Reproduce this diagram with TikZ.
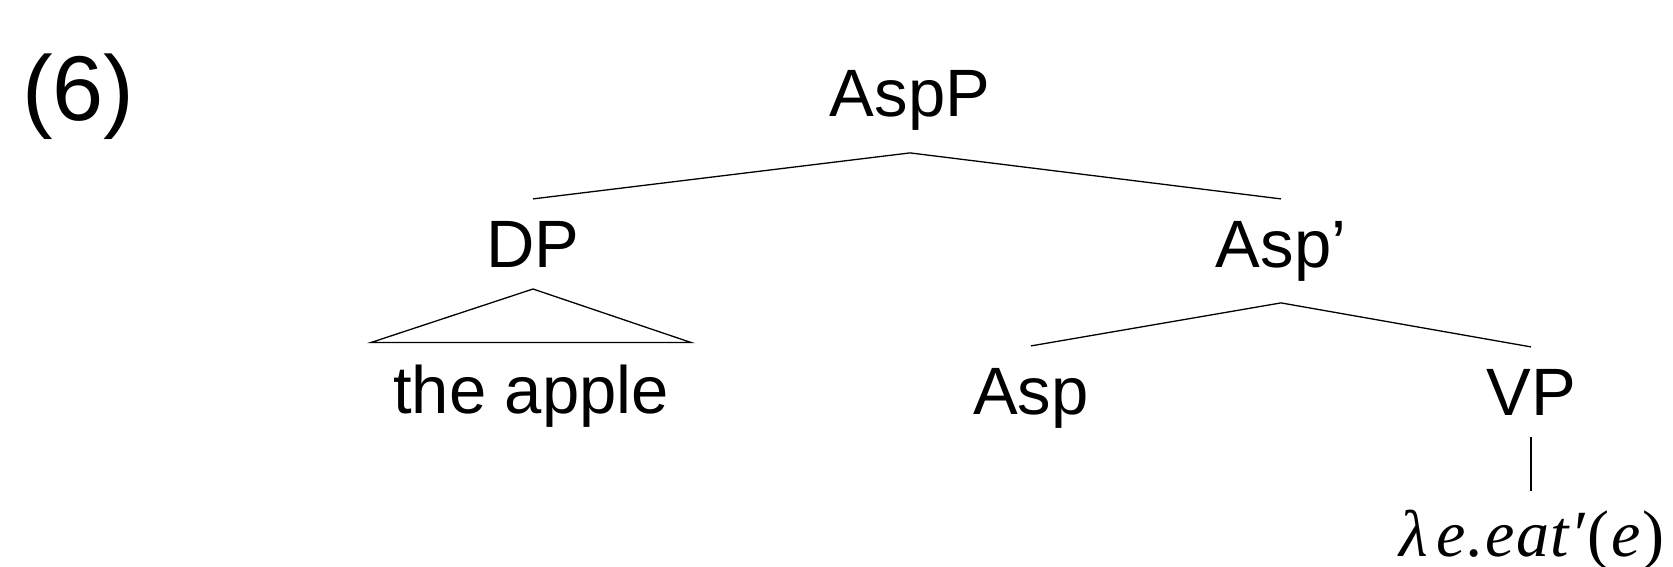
\documentclass[tikz,border=0pt]{standalone}
\usepackage{fontspec}
\setmainfont{Liberation Sans}
\newfontfamily\timesf{Liberation Serif}
\begin{document}
\begin{tikzpicture}[x=1pt,y=-1pt,
  lab/.style={font=\fontsize{67}{80}\selectfont, inner sep=22pt, outer sep=0pt, anchor=base},
  edge/.style={line width=1.3pt, black}]
\useasboundingbox (0,0) rectangle (1673,567);
\node[anchor=base west, font=\fontsize{92}{100}\selectfont, inner sep=0pt] (ex) at (22,121) {(6)};
\node[lab] (AspP) at (910,117) {AspP};
\node[lab] (DP) at (533,267) {DP};
\node[lab] (Aspbar) at (1281,267) {Asp’};
\node[lab] (apple) at (531,413) {the apple};
\node[lab] (Asp) at (1031,414) {Asp};
\node[lab] (VP) at (1531,415) {VP};
\node[lab, font=\timesf\fontsize{66}{70}\selectfont, inner sep=19pt] (sem) at (1532,556)
  {\itshape λ\kern8pt e\kern2pt.\kern2pt e\kern1pt a\kern1pt t\kern2pt′\kern2pt\upshape(\kern2pt\itshape e\kern2pt\upshape)};
\draw[edge] (DP.north) -- (AspP.south) -- (Aspbar.north);
\draw[edge] (apple.north west) -- (DP.south) -- (apple.north east) -- cycle;
\draw[edge] (Asp.north) -- (Aspbar.south) -- (VP.north);
\draw[edge] (VP.south) -- (VP.south |- sem.north);
\end{tikzpicture}
\end{document}
